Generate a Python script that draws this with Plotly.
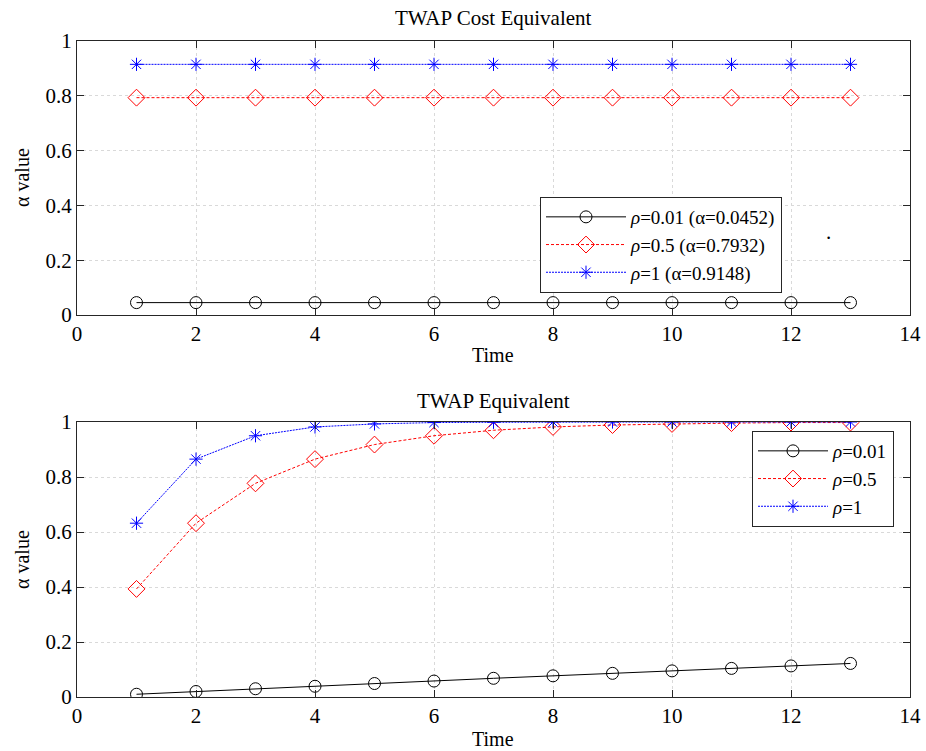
import plotly.graph_objects as go
from plotly.subplots import make_subplots

time = [1, 2, 3, 4, 5, 6, 7, 8, 9, 10, 11, 12, 13]

# Top panel: TWAP cost equivalent (constant alpha)
cost_r001 = [0.0452] * 13
cost_r05 = [0.7932] * 13
cost_r1 = [0.9148] * 13

# Bottom panel: TWAP equivalent
eq_r001 = [0.010, 0.020, 0.030, 0.039, 0.049, 0.058, 0.068, 0.077, 0.086, 0.095, 0.104, 0.113, 0.122]
eq_r05 = [0.393, 0.632, 0.777, 0.865, 0.918, 0.950, 0.970, 0.982, 0.989, 0.993, 0.996, 0.998, 0.998]
eq_r1 = [0.632, 0.865, 0.950, 0.982, 0.993, 0.998, 0.999, 1.000, 1.000, 1.000, 1.000, 1.000, 1.000]

top_names = ["<i>ρ</i>=0.01 (α=0.0452)", "<i>ρ</i>=0.5 (α=0.7932)", "<i>ρ</i>=1 (α=0.9148)"]
bot_names = ["<i>ρ</i>=0.01", "<i>ρ</i>=0.5", "<i>ρ</i>=1"]

FONT = "Liberation Serif, Times New Roman, serif"

fig = make_subplots(rows=2, cols=1, vertical_spacing=0.0, shared_xaxes=False)

styles = [
    dict(color="#000000", dash="solid", symbol="circle-open", size=12),
    dict(color="#ff0000", dash="3px,2px", symbol="diamond-open", size=13),
    dict(color="#0000ff", dash="2px,1px", symbol="asterisk-open", size=11),
]

for i, (ys, nm) in enumerate(zip([cost_r001, cost_r05, cost_r1], top_names)):
    s = styles[i]
    fig.add_trace(go.Scatter(
        x=time, y=ys, mode="lines+markers", name=nm, legend="legend",
        line=dict(color=s["color"], dash=s["dash"], width=1),
        marker=dict(symbol=s["symbol"], size=s["size"], color=s["color"], line=dict(width=1, color=s["color"])),
    ), row=1, col=1)

for i, (ys, nm) in enumerate(zip([eq_r001, eq_r05, eq_r1], bot_names)):
    s = styles[i]
    fig.add_trace(go.Scatter(
        x=time, y=ys, mode="lines+markers", name=nm, legend="legend2",
        line=dict(color=s["color"], dash=s["dash"], width=1),
        marker=dict(symbol=s["symbol"], size=s["size"], color=s["color"], line=dict(width=1, color=s["color"])),
    ), row=2, col=1)

axis_common = dict(
    showline=True, linecolor="#262626", linewidth=1, mirror="allticks",
    ticks="inside", ticklen=7, tickcolor="#262626",
    showgrid=True, gridcolor="#d9d9d9", griddash="dot", gridwidth=1,
    zeroline=False, tickfont=dict(family=FONT, size=21, color="#000000"),
    automargin=False,
)

L, R, T, B = 77, 16, 41, 54
W, H = 926, 751
plot_h = H - T - B
plot_w = W - L - R


def px_to_paper(xp, yp):
    return (xp - L) / plot_w, (H - B - yp) / plot_h


top_dom = [(H - B - 315) / plot_h, 1.0]
bot_dom = [0.0, (H - B - 422) / plot_h]

fig.update_layout(
    width=W, height=H,
    margin=dict(l=L, r=R, t=T, b=B),
    paper_bgcolor="white", plot_bgcolor="white",
    font=dict(family=FONT, size=21, color="#000000"),
    xaxis=dict(range=[0, 14], dtick=2, domain=[0, 1], **axis_common),
    yaxis=dict(range=[0, 1], dtick=0.2, domain=top_dom, **axis_common),
    xaxis2=dict(range=[0, 14], dtick=2, domain=[0, 1], **axis_common),
    yaxis2=dict(range=[0, 1], dtick=0.2, domain=bot_dom, **axis_common),
    showlegend=True,
)

lx, ly = px_to_paper(540, 293)
lx2, ly2 = px_to_paper(752, 431)
fig.update_layout(
    legend=dict(x=lx, y=ly, xanchor="left", yanchor="bottom",
                bordercolor="#262626", borderwidth=1, bgcolor="white",
                font=dict(family=FONT, size=19), tracegroupgap=0, itemwidth=80),
    legend2=dict(x=lx2, y=ly2, xanchor="left", yanchor="top",
                 bordercolor="#262626", borderwidth=1, bgcolor="white",
                 font=dict(family=FONT, size=19), tracegroupgap=0, itemwidth=70),
)


def ann(text, xp, yp, size, angle=0):
    x, y = px_to_paper(xp, yp)
    return dict(text=text, x=x, y=y, xref="paper", yref="paper", showarrow=False,
                textangle=angle, font=dict(family=FONT, size=size), xanchor="center", yanchor="middle")


annotations = [
    ann("TWAP Cost Equivalent", 493, 18, 21),
    ann("TWAP Equivalent", 493, 401, 21),
    ann("Time", 493, 355, 20),
    ann("Time", 493, 739, 20),
    ann("α value", 22, 178, 20, -90),
    ann("α value", 22, 560, 20, -90),
    ann(".", 828, 232, 21),
]
fig.update_layout(annotations=annotations)

fig.write_html(
    "out.html",
    config={"displayModeBar": False},
    post_script="document.body.style.margin='0px';document.body.style.overflow='hidden';",
)
